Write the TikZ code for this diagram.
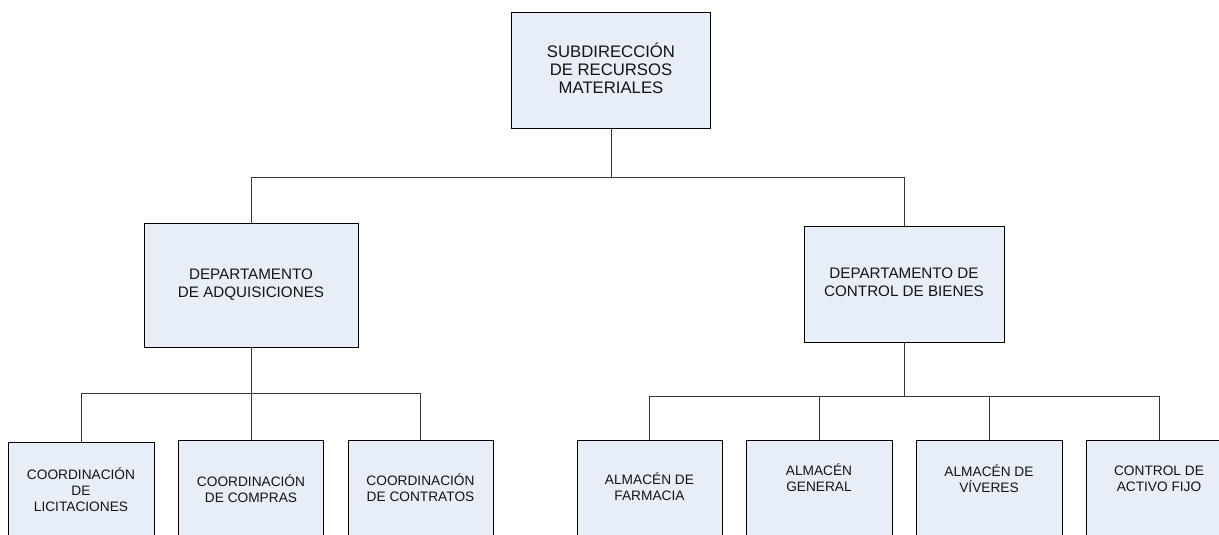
\documentclass[tikz,border=0pt]{standalone}
\usepackage{fontspec}
\setmainfont{Liberation Sans}
\definecolor{boxfill}{RGB}{232,238,247}
\definecolor{linec}{RGB}{55,55,55}
\definecolor{txtc}{RGB}{20,20,20}
\begin{document}
\begin{tikzpicture}[x=1pt,y=-1pt,
  box/.style={draw=black,line width=1pt,fill=boxfill,inner sep=0pt,align=center,text=txtc},
  lbl/.style={inner sep=0pt,align=center,text=txtc,
    execute at begin node={\rule{0pt}{0.95em}},
    execute at end node={\rule[-0.25em]{0pt}{0.25em}}},
  conn/.style={draw=linec,line width=1pt},
  ftop/.style={font=\fontsize{16.7}{18.3}\selectfont},
  fdep/.style={font=\fontsize{15.2}{18.3}\selectfont},
  fbot/.style={font=\fontsize{13.7}{16}\selectfont},
  bbox/.style={box,minimum width=146pt,minimum height=100pt,anchor=north}
]
\path[use as bounding box] (0,0) rectangle (1219,535);
\clip (0,0) rectangle (1219,535);

% top level
\node[box,lbl,ftop,minimum width=199pt,minimum height=115pt] (top) at (611,70.5)
  {SUBDIRECCIÓN\\DE RECURSOS\\MATERIALES};

% departments
\node[box,lbl,fdep,minimum width=214pt,minimum height=124pt] (dl) at (251,285)
  {DEPARTAMENTO\\DE ADQUISICIONES};
\node[box,lbl,fdep,minimum width=200pt,minimum height=116pt] (dr) at (904,284)
  {DEPARTAMENTO DE\\CONTROL DE BIENES};

% bottom boxes (left)
\node[bbox] (c1) at (81,442) {};
\node[bbox,minimum width=145pt] (c2) at (251,440) {};
\node[bbox,minimum width=145pt] (c3) at (420.5,440) {};
% bottom boxes (right)
\node[bbox,minimum width=145pt] (r1) at (649.5,440) {};
\node[bbox] (r2) at (819,440) {};
\node[bbox] (r3) at (989,440) {};
\node[bbox] (r4) at (1159,440) {};

% labels of bottom boxes
\node[lbl,fbot] (c1t) at (81,491.5) {COORDINACIÓN\\DE\\LICITACIONES};
\node[lbl,fbot] (c2t) at (251,490) {COORDINACIÓN\\DE COMPRAS};
\node[lbl,fbot] (c3t) at (420.5,489.5) {COORDINACIÓN\\DE CONTRATOS};
\node[lbl,fbot] (r1t) at (649.5,488.5) {ALMACÉN DE\\FARMACIA};
\node[lbl,fbot] (r2t) at (819,479) {ALMACÉN\\GENERAL};
\node[lbl,fbot] (r3t) at (989,480.5) {ALMACÉN DE\\VÍVERES};
\node[lbl,fbot] (r4t) at (1159,480) {CONTROL DE\\ACTIVO FIJO};

% connectors
\coordinate (j0) at (611,177);
\draw[conn] (top.south) -- (j0);
\draw[conn] (j0) -| (dl.north);
\draw[conn] (j0) -| (dr.north);

\coordinate (j1) at (251,393);
\draw[conn] (dl.south) -- (j1);
\draw[conn] (j1) -| (c1.north);
\draw[conn] (j1) -- (c2.north);
\draw[conn] (j1) -| (c3.north);

\coordinate (j2) at (904,396);
\draw[conn] (dr.south) -- (j2);
\draw[conn] (j2) -| (r1.north);
\draw[conn] (j2) -| (r2.north);
\draw[conn] (j2) -| (r3.north);
\draw[conn] (j2) -| (r4.north);
\end{tikzpicture}
\end{document}
